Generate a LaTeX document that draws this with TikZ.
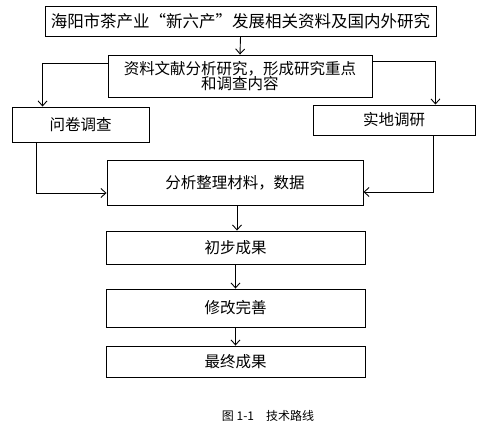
\documentclass[tikz,border=0pt]{standalone}
\usepackage{fontspec}
\setmainfont{Noto Sans CJK SC}
\usetikzlibrary{calc,shadows,arrows.meta}

\begin{document}
\begin{tikzpicture}[x=1pt,y=-1pt,
  box/.style={draw=black, fill=white, line width=0.9pt, inner sep=0pt,
    font=\fontsize{15.5}{16.5}\selectfont, align=center,
    drop shadow={shadow xshift=1.3pt, shadow yshift=-1.3pt, fill=black, opacity=1}},
  arr/.style={black, line width=0.9pt, -{Straight Barb[length=5pt,width=9pt]}}]
\useasboundingbox (0,0) rectangle (483,431);
\node [box, minimum width=391pt, minimum height=30pt, font=\fontsize{16.5}{17}\selectfont] (b1) at (240.5,21) {海阳市茶产业“新六产”发展相关资料及国内外研究};
\node [box, minimum width=264pt, minimum height=42pt] (b2) at (240,76) {资料文献分析研究，形成研究重点\\[-2pt]和调查内容};
\node [box, minimum width=137pt, minimum height=35pt] (b3) at (80.5,124.5) {问卷调查};
\node [box, minimum width=162pt, minimum height=30pt] (b4) at (394,120) {实地调研};
\node [box, minimum width=256pt, minimum height=45pt] (b5) at (235,182.5) {\raisebox{-7pt}{分析整理材料，数据}};
\node [box, minimum width=259pt, minimum height=33pt] (b6) at (235.5,247.5) {初步成果};
\node [box, minimum width=259pt, minimum height=38pt] (b7) at (235.5,308) {修改完善};
\node [box, minimum width=259pt, minimum height=31pt] (b8) at (235.5,361.5) {最终成果};
%\draw [arr] (b1) -- (b2);
\draw [arr] (b1.south) -- (b2.north);
\draw [arr] ($(b2.north west)+(0,9)$) -| ($(b3.north west)+(31,0)$);
\draw [arr] ($(b2.north east)+(0,7)$) -| ($(b4.north east)+(-40,0)$);
\draw [arr] ($(b3.south west)+(25,0)$) |- ($(b5.west)+(0,10.5)$);
\draw [arr] ($(b4.south east)+(-42,0)$) |- ($(b5.east)+(0,9.5)$);
\draw [arr] ($(b5.south)+(2,0)$) -- ($(b6.north)+(1.5,0)$);
\draw [arr] (b6.south) -- (b7.north);
\draw [arr] (b7.south) -- (b8.north);
\node [font=\fontsize{12}{12}\selectfont] (cap) at (268,416) {图 1-1\quad 技术路线};
\end{tikzpicture}
\end{document}
